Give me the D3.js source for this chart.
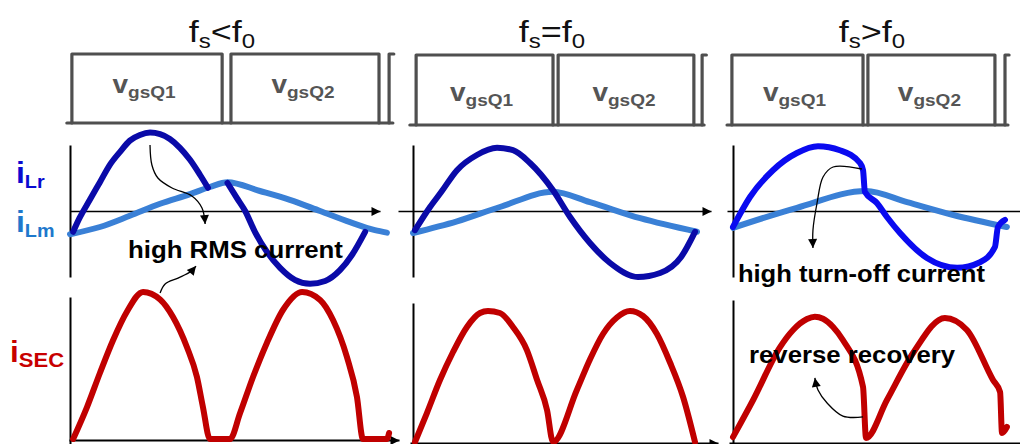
<!DOCTYPE html>
<html>
<head>
<meta charset="utf-8">
<script src="https://cdnjs.cloudflare.com/ajax/libs/d3/7.8.5/d3.min.js"></script>
<style>
  html, body { margin: 0; padding: 0; background: #fff; }
  svg { display: block; font-family: "Liberation Sans", Arial, sans-serif; }
</style>
</head>
<body>
<svg id="chart" width="1020" height="444"></svg>
<script>
// Datos: tiempo t normalizado a un periodo (0..1) en cada panel
// corriente del tanque en p.u. (fila central) y corriente del secundario (fila inferior)

// gate: [inicio, sube Q1, baja Q1, sube Q2, baja Q2, sube Q1 siguiente, fin]
const gateBelow = [-0.01, 0.006, 0.483, 0.511, 0.981, 1.013, 1.025];
const gateAt    = [-0.011, 0.011, 0.493, 0.511, 0.989, 1.018, 1.025];
const gateAbove = [-0.022, -0.004, 0.478, 0.496, 0.963, 1.0, 1.011];

// fs < f0  (null = tramo donde iLr = iLm)
const iLrBelow = [[0.01,-0.26],[0.03,-0.09],[0.063,0.14],[0.095,0.36],[0.127,0.58],[0.159,0.74],[0.19,0.88],
  [0.222,0.95],[0.254,0.98],[0.286,0.96],[0.317,0.9],[0.349,0.79],[0.381,0.64],[0.413,0.45],[0.438,0.29], null,
  [0.5,0.35],[0.53,0.16],[0.556,0],[0.587,-0.26],[0.625,-0.51],[0.667,-0.71],[0.714,-0.86],[0.762,-0.91],
  [0.81,-0.875],[0.857,-0.74],[0.895,-0.55],[0.937,-0.26]];
const iLmBelow = [[0,-0.29],[0.095,-0.2],[0.19,-0.06],[0.286,0.09],[0.381,0.21],[0.444,0.3],[0.5,0.36],
  [0.603,0.25],[0.698,0.14],[0.794,0],[0.889,-0.14],[0.968,-0.24],[1.006,-0.27]];
const iSecBelow = [[0.01,0],[0.054,0.213],[0.095,0.44],[0.137,0.66],[0.181,0.85],[0.232,0.98],[0.286,0.93],
  [0.327,0.813],[0.371,0.613],[0.403,0.413],[0.422,0.213],[0.444,0],[0.508,0],[0.54,0.173],[0.581,0.413],
  [0.625,0.64],[0.676,0.86],[0.737,0.98],[0.794,0.927],[0.835,0.793],[0.879,0.547],[0.911,0.28],
  [0.93,0],[1.006,0],[1.013,0.04]];

// fs = f0
const iLrAt = [[0.007,-0.24],[0.06,0.05],[0.1,0.24],[0.155,0.51],[0.225,0.7],[0.296,0.79],[0.352,0.76],
  [0.412,0.6],[0.493,0.26],[0.553,-0.075],[0.623,-0.4],[0.694,-0.65],[0.792,-0.825],[0.87,-0.775],
  [0.944,-0.575],[0.993,-0.26]];
const iLmAt = [[0,-0.275],[0.155,-0.13],[0.306,0.05],[0.493,0.24],[0.623,0.11],[0.8,-0.09],[1.0,-0.26]];
const iSecAt = [[0.007,0],[0.049,0.193],[0.095,0.413],[0.141,0.6],[0.19,0.767],[0.236,0.86],[0.264,0.873],
  [0.306,0.86],[0.352,0.767],[0.401,0.613],[0.437,0.413],[0.472,0.213],[0.493,0],[0.577,0.347],
  [0.623,0.55],[0.669,0.72],[0.718,0.83],[0.764,0.873],[0.81,0.84],[0.859,0.72],[0.905,0.53],
  [0.951,0.3],[0.993,0]];

// fs > f0
const iLrAbove = [[0,-0.2],[0.0625,0.175],[0.147,0.51],[0.235,0.725],[0.3125,0.81],[0.393,0.76],[0.467,0.6],
  [0.478,0.51],[0.485,0.24],[0.529,0.1],[0.566,-0.075],[0.614,-0.275],[0.713,-0.5875],[0.824,-0.71],
  [0.908,-0.64],[0.963,-0.45],[0.974,-0.2],[1.0,-0.11]];
const iLmAbove = [[0,-0.21],[0.235,0.04],[0.489,0.25],[0.64,0.11],[0.81,-0.05],[1.007,-0.2]];
const iSecAbove = [[0,0.033],[0.074,0.28],[0.173,0.633],[0.221,0.747],[0.272,0.82],[0.301,0.835],
  [0.331,0.822],[0.368,0.767],[0.404,0.68],[0.478,0.367],[0.489,0.027],[0.566,0.28],[0.662,0.593],
  [0.779,0.827],[0.86,0.747],[0.956,0.413],[0.982,0.333],[0.989,0.06],[1.007,0.1]];

// flechas de anotacion (t, valor) y textos
const noteRms     = [[0.254,0.825],[0.26,0.575],[0.279,0.4125],[0.324,0.2875],[0.387,0.1875],[0.419,0.0375],[0.429,-0.1625]];
const noteRmsSec  = [[0.286,0.973],[0.302,1.033],[0.343,1.073],[0.381,1.113],[0.4,1.153]];
const noteTurnOff = [[0.474,0.525],[0.368,0.55],[0.331,0.425],[0.309,0.1],[0.294,-0.2375],[0.294,-0.4625]];
const noteReverse = [[0.478,0.167],[0.404,0.173],[0.346,0.26],[0.3125,0.347],[0.301,0.427]];

const titleParts = [
  [['f'],['s',1],['<f'],['0',1]],
  [['f'],['s',1],['=f'],['0',1]],
  [['f'],['s',1],['>f'],['0',1]]
];
const gateLabels = [[['v'],['gsQ1',1]], [['v'],['gsQ2',1]]];

// geometria de cada panel (pixeles)
const panels = [
  { x0: 70, x1: 385, gate: [123, 54], gateLabelY: 93, titleX: 222, midAxis: [70, 380], midArrow: true,
    midV: [145, 277], botBase: 439, botAxis: [69, 399], botArrow: true, botV: [297, 444],
    gateData: gateBelow, iLr: iLrBelow, iLm: iLmBelow, iSec: iSecBelow, lrColor: '#0a0aa8' },
  { x0: 413, x1: 697, gate: [125, 55], gateLabelY: 101, titleX: 552, midAxis: [398, 711], midArrow: true,
    midV: [145, 277], botBase: 442, botAxis: [410, 718], botArrow: true, botV: [303, 444],
    gateData: gateAt, iLr: iLrAt, iLm: iLmAt, iSec: iSecAt, lrColor: '#0a0aa8' },
  { x0: 733, x1: 1005, gate: [125, 55], gateLabelY: 101, titleX: 872, midAxis: [727, 1020], midArrow: false,
    midV: [145, 277], botBase: 442, botAxis: [729, 1020], botArrow: false, botV: [300, 444],
    gateData: gateAbove, iLr: iLrAbove, iLm: iLmAbove, iSec: iSecAbove, lrColor: '#0a0af0' }
];

const svg = d3.select('#chart');
const defs = svg.append('defs');

function addMarker(id, w, h) {
  defs.append('marker')
    .attr('id', id)
    .attr('viewBox', '0 0 10 10')
    .attr('refX', 10).attr('refY', 5)
    .attr('markerUnits', 'userSpaceOnUse')
    .attr('markerWidth', w).attr('markerHeight', h)
    .attr('orient', 'auto')
    .append('path')
    .attr('d', 'M0,0L10,5L0,10Z')
    .attr('fill', '#000');
}
addMarker('axisHead', 13, 9);
addMarker('noteHead', 10, 9);

function richText(g, x, y, parts, o) {
  const t = g.append('text')
    .attr('transform', `translate(${x},${y}) scale(${o.sx || 1},1)`)
    .attr('text-anchor', o.anchor || 'start')
    .attr('font-size', o.size)
    .attr('font-weight', o.weight || 'normal')
    .attr('fill', o.color);
  let down = false;
  parts.forEach(([str, sub]) => {
    const s = t.append('tspan').text(str);
    if (sub) s.attr('font-size', o.subSize);
    if (sub && !down) { s.attr('dy', o.subDy); down = true; }
    else if (!sub && down) { s.attr('dy', -o.subDy); down = false; }
  });
}

const noteCurve = d3.curveCatmullRom.alpha(0.5);
const waveCurve = d3.curveMonotoneX;

panels.forEach((p, i) => {
  const g = svg.append('g');
  const x = d3.scaleLinear().domain([0, 1]).range([p.x0, p.x1]);
  const yGate = d3.scaleLinear().domain([0, 1]).range(p.gate);
  const yMid = d3.scaleLinear().domain([-1, 1]).range([291, 131]);
  const yBot = d3.scaleLinear().domain([0, 1]).range([p.botBase, p.botBase - 150]);

  // ejes sin marcas
  const hAxis = (yPos, ext, arrow, width) => {
    const s = d3.scaleLinear().domain([x.invert(ext[0]), x.invert(ext[1])]).range(ext);
    const a = g.append('g').attr('transform', `translate(0,${yPos})`)
      .call(d3.axisBottom(s).tickValues([]).tickSizeOuter(0));
    a.select('.domain').attr('stroke', '#000').attr('stroke-width', width)
      .attr('marker-end', arrow ? 'url(#axisHead)' : null);
  };
  const vAxis = (ys, ext) => {
    const s = d3.scaleLinear().domain([ys.invert(ext[0]), ys.invert(ext[1])]).range(ext);
    g.append('g').attr('transform', `translate(${p.x0},0)`)
      .call(d3.axisLeft(s).tickValues([]).tickSizeOuter(0))
      .select('.domain').attr('stroke', '#000').attr('stroke-width', 2);
  };
  hAxis(yMid(0), p.midAxis, p.midArrow, 1.3);
  hAxis(p.botBase + 1, p.botAxis, p.botArrow, 2);
  vAxis(yMid, p.midV);
  vAxis(yBot, p.botV);

  // senal de puerta: linea base continua y pulsos cerrados
  const [s0, r1, f1, r2, f2, r3, s1] = p.gateData;
  const basePts = [[s0,0],[s1,0]];
  const pulse1 = [[r1,0],[r1,1],[f1,1],[f1,0]];
  const pulse2 = [[r2,0],[r2,1],[f2,1],[f2,0]];
  const stubPts = [[r3,0],[r3,1],[r3 + 0.015,1]];
  const gateLine = d3.line().x(d => x(d[0])).y(d => yGate(d[1]));
  [basePts, pulse1, pulse2, stubPts].forEach(pts => {
    g.append('path').attr('d', gateLine(pts))
      .attr('fill', 'none').attr('stroke', '#4f4f4f').attr('stroke-width', 3.2)
      .attr('stroke-linejoin', 'round').attr('stroke-linecap', 'round');
  });
  richText(g, (x(r1) + x(f1)) / 2 - 3, p.gateLabelY, gateLabels[0],
    { size: 25, subSize: 17, subDy: 5, weight: 'bold', color: '#555', anchor: 'middle', sx: 1.12 });
  richText(g, (x(r2) + x(f2)) / 2 - 2, p.gateLabelY, gateLabels[1],
    { size: 25, subSize: 17, subDy: 5, weight: 'bold', color: '#555', anchor: 'middle', sx: 1.12 });

  richText(g, p.titleX, 42, titleParts[i],
    { size: 30, subSize: 20, subDy: 6, color: '#111', anchor: 'middle', sx: 1.2 });

  // corrientes
  const midLine = d3.line().defined(d => d != null).x(d => x(d[0])).y(d => yMid(d[1])).curve(waveCurve);
  const botLine = d3.line().x(d => x(d[0])).y(d => yBot(d[1])).curve(waveCurve);
  const stroke = (path, color) => path.attr('fill', 'none').attr('stroke', color).attr('stroke-width', 6)
    .attr('stroke-linejoin', 'round').attr('stroke-linecap', 'round');
  stroke(g.append('path').attr('d', midLine(p.iLm)), '#3a80d6');
  stroke(g.append('path').attr('d', midLine(p.iLr)), p.lrColor);
  stroke(g.append('path').attr('d', botLine(p.iSec)), '#c00000');

  p.x = x; p.yMid = yMid; p.yBot = yBot;
});

// anotaciones
const noteLayer = svg.append('g');
function note(pts, xs, ys) {
  noteLayer.append('path')
    .attr('d', d3.line().x(d => xs(d[0])).y(d => ys(d[1])).curve(noteCurve)(pts))
    .attr('fill', 'none').attr('stroke', '#000').attr('stroke-width', 1.3)
    .attr('marker-end', 'url(#noteHead)');
}
function noteText(str, t, v, xs, ys, len) {
  noteLayer.append('text')
    .attr('x', xs(t)).attr('y', ys(v))
    .attr('font-size', 23).attr('font-weight', 'bold').attr('fill', '#000')
    .attr('textLength', len).attr('lengthAdjust', 'spacingAndGlyphs')
    .text(str);
}
const [pB, , pA] = panels;
note(noteRms, pB.x, pB.yMid);
note(noteRmsSec, pB.x, pB.yBot);
note(noteTurnOff, pA.x, pA.yMid);
note(noteReverse, pA.x, pA.yBot);
noteText('high RMS current', 0.184, -0.5875, pB.x, pB.yMid, 215);
noteText('high turn-off current', 0.018, -0.8875, pA.x, pA.yMid, 247);
noteText('reverse recovery', 0.059, 0.527, pA.x, pA.yBot, 206);

// etiquetas de las senales
richText(svg, 16, 183, [['i'],['Lr',1]], { size: 29, subSize: 18, subDy: 5, weight: 'bold', color: '#0a0ad0', sx: 1.1 });
richText(svg, 16, 232, [['i'],['Lm',1]], { size: 29, subSize: 18, subDy: 5, weight: 'bold', color: '#1e78cc', sx: 1.1 });
richText(svg, 10, 362, [['i'],['SEC',1]], { size: 30, subSize: 21, subDy: 5, weight: 'bold', color: '#c80000', sx: 1.05 });
</script>
</body>
</html>
